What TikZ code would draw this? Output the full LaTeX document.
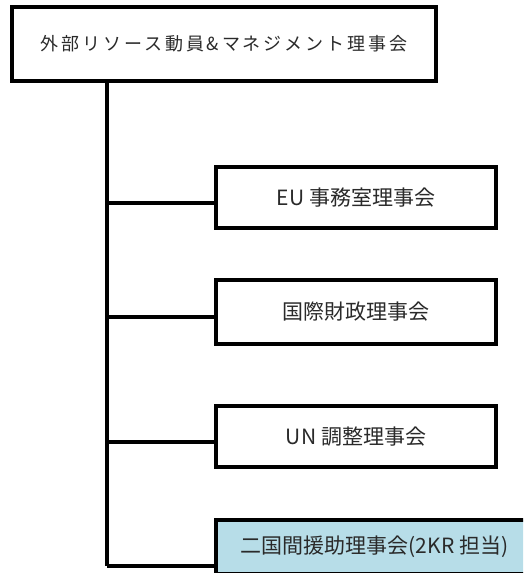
\documentclass[tikz,border=0pt]{standalone}
\usepackage{fontspec}
\setmainfont{Noto Sans CJK JP}
\newfontfamily\topfont[LetterSpace=16]{Noto Sans CJK JP}
\usetikzlibrary{calc}
\definecolor{boxblue}{HTML}{B7DDE8}
\definecolor{txt}{HTML}{2A2A2A}
\tikzset{
  orgbox/.style={draw=black, line width=3.4pt, fill=white, rectangle, inner sep=0pt,
    text=txt, font=\fontsize{21}{24}\selectfont},
  link/.style={draw=black, line width=3.4pt}
}
\begin{document}
\begin{tikzpicture}[x=1pt,y=-1pt]
\useasboundingbox (0,0) rectangle (523,573);
\clip (0,0) rectangle (523,573);
\node[orgbox, minimum width=424pt, minimum height=74pt, font=\topfont\fontsize{18}{21}\selectfont] (top) at (224,44) {外部リソース動員\&マネジメント理事会};
\coordinate (t0) at (107,81);
\coordinate (t4) at (107,566);
\coordinate (j1) at (107,203);
\coordinate (j2) at (107,317);
\coordinate (j3) at (107,442);
\draw[link] (t0) -- (t4);
\node[orgbox, minimum width=280pt, minimum height=61pt] (b1) at (356,197.5) {EU 事務室理事会};
\node[orgbox, minimum width=280pt, minimum height=64pt] (b2) at (356,312) {国際財政理事会};
\node[orgbox, minimum width=280pt, minimum height=61pt] (b3) at (356,436.5) {UN 調整理事会};
\node[orgbox, fill=boxblue, minimum width=317pt, minimum height=54pt] (b4) at (374.5,547) {二国間援助理事会(2KR 担当)};
\draw[link] (j1) -- (j1 -| b1.west);
\draw[link] (j2) -- (j2 -| b2.west);
\draw[link] (j3) -- (j3 -| b3.west);
\draw[link] (t4) -- (t4 -| b4.west);
\end{tikzpicture}
\end{document}
